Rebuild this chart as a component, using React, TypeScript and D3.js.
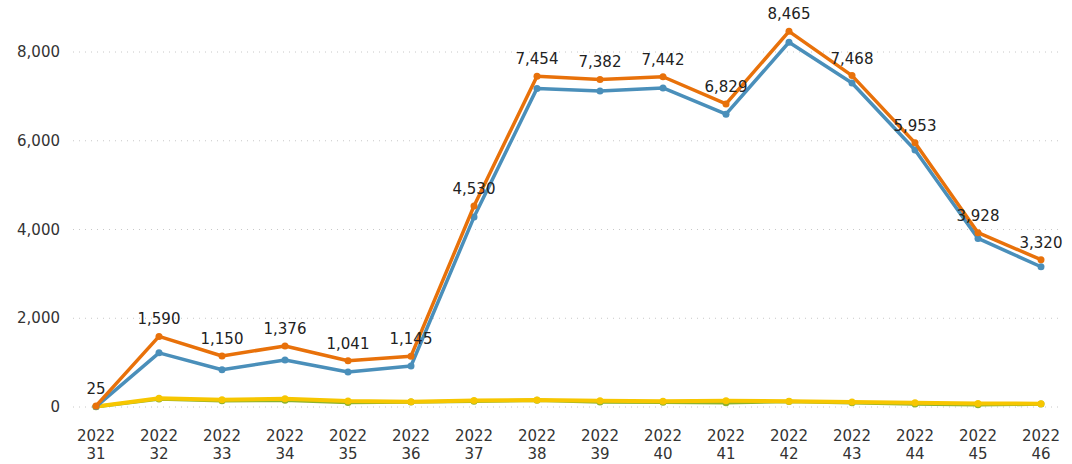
import React, { useEffect, useRef } from "react";
import * as d3 from "d3";

const weeks = ["31", "32", "33", "34", "35", "36", "37", "38", "39", "40", "41", "42", "43", "44", "45", "46"];
const year = "2022";

const totalValues = [25, 1590, 1150, 1376, 1041, 1145, 4530, 7454, 7382, 7442, 6829, 8465, 7468, 5953, 3928, 3320];
const blueValues = [10, 1220, 840, 1060, 790, 925, 4280, 7180, 7120, 7190, 6600, 8220, 7300, 5790, 3800, 3160];
const greenValues = [5, 180, 140, 150, 100, 110, 130, 150, 110, 105, 95, 125, 95, 65, 50, 65];
const yellowValues = [10, 195, 165, 185, 135, 120, 145, 160, 140, 130, 140, 130, 110, 95, 80, 75];

const yTicks = [0, 2000, 4000, 6000, 8000];

const W = 1072;
const H = 464;
const font = "Verdana, 'DejaVu Sans', sans-serif";

const drawChart = (svgEl: SVGSVGElement) => {
  const svg = d3.select(svgEl);
  svg.selectAll("*").remove();

  const x = d3.scalePoint().domain(weeks).range([96, 1041]);
  const y = d3.scaleLinear().domain([0, 8000]).range([407, 52]);

  // grid
  svg
    .append("g")
    .selectAll("line")
    .data(yTicks)
    .enter()
    .append("line")
    .attr("x1", 73)
    .attr("x2", 1062)
    .attr("y1", (d) => y(d))
    .attr("y2", (d) => y(d))
    .attr("stroke", "#c8c8c8")
    .attr("stroke-width", 1)
    .attr("stroke-dasharray", "1,5");

  svg
    .append("g")
    .selectAll("text")
    .data(yTicks)
    .enter()
    .append("text")
    .attr("x", 60)
    .attr("y", (d) => y(d) + 5)
    .attr("text-anchor", "end")
    .attr("font-family", font)
    .attr("font-size", 15)
    .attr("fill", "#333")
    .text((d) => d3.format(",")(d));

  const xl = svg.append("g").selectAll("text").data(weeks).enter().append("text")
    .attr("text-anchor", "middle")
    .attr("font-family", font)
    .attr("font-size", 15)
    .attr("fill", "#333");
  xl.append("tspan").attr("x", (d) => x(d) || 0).attr("y", 441).text(year);
  xl.append("tspan").attr("x", (d) => x(d) || 0).attr("y", 459).text((d) => d);

  const line = d3
    .line<number>()
    .x((_, i) => x(weeks[i]) || 0)
    .y((d) => y(d));

  const series = [
    { values: greenValues, color: "#8db32a", w: 3.5 },
    { values: yellowValues, color: "#f7c600", w: 4 },
    { values: blueValues, color: "#4a8fba", w: 3.5 },
    { values: totalValues, color: "#e8710a", w: 3.5 },
  ];

  series.forEach((s) => {
    const g = svg.append("g");
    g.append("path")
      .datum(s.values)
      .attr("d", line)
      .attr("fill", "none")
      .attr("stroke", s.color)
      .attr("stroke-width", s.w)
      .attr("stroke-linejoin", "round");
    g.selectAll("circle")
      .data(s.values)
      .enter()
      .append("circle")
      .attr("cx", (_, i) => x(weeks[i]) || 0)
      .attr("cy", (d) => y(d))
      .attr("r", 3.5)
      .attr("fill", s.color);
  });

  svg
    .append("g")
    .selectAll("text")
    .data(totalValues)
    .enter()
    .append("text")
    .attr("x", (_, i) => x(weeks[i]) || 0)
    .attr("y", (d) => y(d) - 12)
    .attr("text-anchor", "middle")
    .attr("font-family", font)
    .attr("font-size", 15)
    .attr("fill", "#222")
    .text((d) => d3.format(",")(d));
};

const App = () => {
  const ref = useRef<SVGSVGElement>(null);
  useEffect(() => {
    if (ref.current) drawChart(ref.current);
  }, []);
  return (
    <svg
      ref={ref}
      width={W}
      height={H}
      style={{ position: "absolute", left: 0, top: 0, background: "#fff" }}
    ></svg>
  );
};

export default App;
